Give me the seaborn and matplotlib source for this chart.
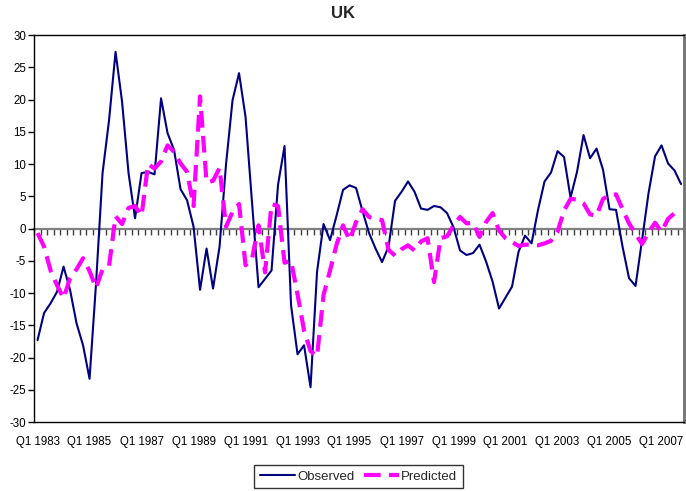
import numpy as np
import pandas as pd
import matplotlib
matplotlib.use("Agg")
import matplotlib.pyplot as plt
from matplotlib.ticker import NullFormatter
import seaborn as sns

# quarterly categories, Q1 1983 .. Q4 2007
years = list(range(1983, 2008))
quarters = [f"Q{q} {y}" for y in years for q in range(1, 5)]

observed = [
    -17.3, -13.1, -11.6, -9.8, -5.9, -9.5, -14.7, -18.1, -23.3, -8.5,
    8.6, 16.8, 27.4, 19.7, 8.6, 1.6, 8.6, 8.8, 8.4, 20.2,
    14.8, 12.2, 6.1, 4.4, 0.3, -9.5, -3.1, -9.3, -2.8, 10.0,
    19.9, 24.1, 17.3, 4.0, -9.1, -7.8, -6.5, 6.8, 12.8, -11.9,
    -19.5, -18.1, -24.6, -6.7, 0.7, -1.8, 2.0, 6.0, 6.7, 6.3,
    2.7, -0.7, -3.1, -5.2, -2.8, 4.3, 5.7, 7.3, 5.7, 3.1,
    2.9, 3.5, 3.3, 2.4, 0.2, -3.4, -4.1, -3.8, -2.5, -5.1,
    -8.2, -12.4, -10.7, -9.0, -3.6, -1.1, -2.3, 2.9, 7.3, 8.7,
    12.0, 11.1, 4.8, 8.8, 14.5, 10.9, 12.4, 9.1, 3.0, 2.9,
    -2.8, -7.7, -8.9, -1.8, 5.5, 11.2, 12.9, 10.1, 9.0, 6.9,
]

predicted = [
    -0.7, -2.8, -6.5, -8.8, -10.8, -7.7, -6.3, -4.6, -6.6, -9.2,
    -6.3, -5.8, 1.9, 0.7, 3.2, 3.5, 2.0, 10.0, 9.3, 10.4,
    12.9, 11.9, 10.1, 8.8, 3.5, 20.5, 7.2, 7.4, 9.4, 0.3,
    2.6, 3.8, -5.7, -4.7, 0.5, -6.8, 3.8, 3.5, -5.3, -5.0,
    -10.2, -15.8, -19.0, -19.8, -10.3, -6.5, -2.5, 0.5, -1.8, 1.0,
    3.0, 1.8, 1.5, 1.3, -3.3, -4.2, -3.2, -2.6, -3.4, -2.0,
    -1.5, -8.3, -1.5, -1.2, 0.5, 1.8, 0.8, 0.9, -1.3, 1.0,
    2.4, -0.3, -1.5, -2.1, -2.7, -2.5, -2.5, -2.6, -2.3, -1.9,
    -0.5, 2.8, 4.6, 4.5, 3.9, 2.2, 2.0, 4.6, 5.2, 5.3,
    3.0, 0.8, -0.8, -2.4, -0.6, 0.9, -0.5, 1.5, 2.4, 1.8,
]

label_step = 8
y_ticks = list(range(-30, 31, 5))

df = pd.DataFrame({"t": np.arange(len(quarters)),
                   "Observed": observed,
                   "Predicted": predicted})

sns.set_theme(style="white")
plt.rcParams["font.family"] = ["Liberation Sans", "DejaVu Sans"]
plt.rcParams["axes.unicode_minus"] = False

fig = plt.figure(figsize=(6.86, 4.91), dpi=100)
ax = fig.add_axes([0.050, 0.1405, 0.9475, 0.788])

sns.lineplot(data=df, x="t", y="Observed", ax=ax, color="#000080",
             lw=1.5, label="Observed")
sns.lineplot(data=df, x="t", y="Predicted", ax=ax, color="#FF00FF",
             lw=3, linestyle=(0, (4, 2)), label="Predicted")

ax.set_xlim(-0.5, len(quarters) - 0.5)
ax.set_ylim(-30, 30)
ax.set_yticks(y_ticks)
ticks = list(range(0, len(quarters), label_step))
ax.set_xticks(ticks, labels=[quarters[i] for i in ticks])
ax.set_xlabel("")
ax.set_ylabel("")
ax.tick_params(axis="x", length=0, pad=10, labelsize=8.3, colors="black")
ax.tick_params(axis="y", left=True, length=4, width=1, direction="out",
               pad=2, labelsize=8.3, colors="black")

for side in ["left", "bottom", "top"]:
    ax.spines[side].set_color("black")
    ax.spines[side].set_linewidth(1.0)
ax.spines["right"].set_color("#707070")
ax.spines["right"].set_linewidth(2.0)

# category axis drawn at y = 0 with a tick at every category boundary
zero = ax.secondary_xaxis(0, transform=ax.transData)
zero.set_xticks(np.arange(-0.5, len(quarters), 1))
zero.xaxis.set_major_formatter(NullFormatter())
zero.tick_params(axis="x", length=4, width=1, direction="out",
                 color="#404040")
zero.spines["bottom"].set_color("#808080")
zero.spines["bottom"].set_linewidth(1.6)

handles, labels = ax.get_legend_handles_labels()
ax.get_legend().remove()
leg = fig.legend(handles, labels, loc="center", bbox_to_anchor=(0.5226, 0.0295),
                 ncol=2, frameon=True, fancybox=False, edgecolor="black",
                 fontsize=9.5, handlelength=2.7, handletextpad=0.15,
                 columnspacing=0.7, borderpad=0.4, borderaxespad=0)
leg.get_frame().set_linewidth(1.0)

fig.text(0.5, 1 - 14 / 491, "UK", ha="center", va="center",
         fontweight="bold", fontsize=12)

fig.savefig("out.png", dpi=100)
